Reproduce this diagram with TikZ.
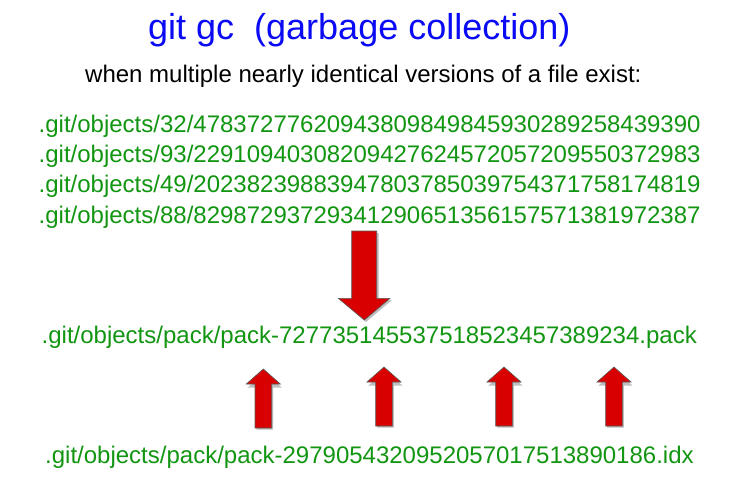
\documentclass[tikz,border=0pt]{standalone}
\usepackage{fontspec}
\setmainfont{Liberation Sans}
\definecolor{gitgreen}{RGB}{18,150,18}
\definecolor{gitblue}{RGB}{10,10,245}
\definecolor{arrowred}{RGB}{216,0,0}
\definecolor{arrowedge}{RGB}{90,90,90}
\begin{document}
\begin{tikzpicture}[x=1pt,y=-1pt,
  txt/.style={inner sep=0pt,anchor=base west},
  path/.style={txt,text=gitgreen,font=\fontsize{24}{24}\selectfont},
  blockarrow/.style={fill=arrowred,draw=arrowedge,line width=0.6pt,line join=miter},
  arrowshadow/.style={fill=black!25}]
\useasboundingbox (0,0) rectangle (750,500);
\fill[white] (0,0) rectangle (750,500);

\node[txt,text=gitblue,font=\fontsize{36}{36}\selectfont] (title) at (148,40) {git gc\ \ (garbage collection)};
\node[txt,font=\fontsize{24}{24}\selectfont] (sub) at (85,83) {when multiple nearly identical versions of a file exist:};

\node[path] (o1) at (38.5,133) {.git/objects/32/47837277620943809849845930289258439390};
\node[path] (o2) at (38.5,163) {.git/objects/93/22910940308209427624572057209550372983};
\node[path] (o3) at (38.5,193) {.git/objects/49/20238239883947803785039754371758174819};
\node[path] (o4) at (38.5,223) {.git/objects/88/82987293729341290651356157571381972387};

\node[path] (pack) at (41.5,343.5) {.git/objects/pack/pack-727735145537518523457389234.pack};
\node[path] (idx) at (45,463.5) {.git/objects/pack/pack-2979054320952057017513890186.idx};

% down arrow
\fill[arrowshadow] (353.5,233) -- (378.5,233) -- (378.5,300) -- (392,300) -- (366,322) -- (340,300) -- (353.5,300) -- cycle;
\draw[blockarrow] (351.7,231) -- (376.7,231) -- (376.7,298.3) -- (390,298.3) -- (364.3,320) -- (338.3,298.3) -- (351.7,298.3) -- cycle;

% up arrows
\foreach \cx/\bot in {263.3/428, 384/426, 504/426, 614/426}{
  \fill[arrowshadow] ([shift={(1.5,1.5)}]\cx-8.3,\bot) -- ++(16.7,0) -- ++(0,-42) -- ++(8.5,0) -- ++(-17,-15) -- ++(-17,15) -- ++(8.5,0) -- cycle;
  \draw[blockarrow] (\cx-8.3,\bot) -- (\cx+8.4,\bot) -- (\cx+8.4,\bot-44) -- (\cx+17,\bot-44) -- (\cx,\bot-59) -- (\cx-17,\bot-44) -- (\cx-8.3,\bot-44) -- cycle;
}
\end{tikzpicture}
\end{document}
